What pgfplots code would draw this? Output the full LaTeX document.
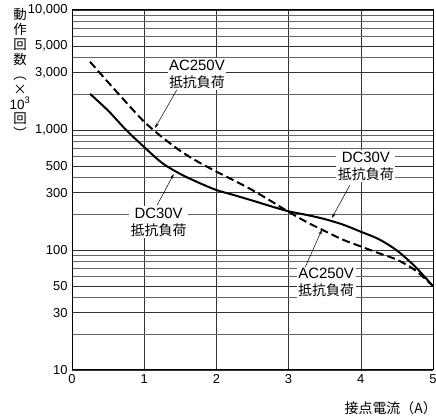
\documentclass[border=0pt]{standalone}
\usepackage{pgfplots}
\pgfplotsset{compat=1.18}
\usetikzlibrary{calc,arrows.meta}
\usepackage{fontspec}
\setmainfont{Liberation Sans}
\newfontfamily\jp{Noto Sans CJK JP}
\begin{document}
\begin{tikzpicture}
\begin{axis}[
    scale only axis,
    width=361bp, height=360bp,
    xmin=0, xmax=5,
    ymode=log, ymin=10, ymax=10000,
    xtick={0,1,2,3,4,5},
    ytick={10,30,50,100,300,500,1000,3000,5000,10000},
    yticklabels={10,30,50,100,300,500,{1,000},{3,000},{5,000},{10,000}},
    minor ytick={20,40,60,70,80,90,200,400,600,700,800,900,2000,4000,6000,7000,8000,9000},
    grid=both,
    major grid style={black!80, line width=0.6pt},
    minor grid style={black!60, line width=0.6pt},
    major tick length=0pt, minor tick length=0pt,
    axis line style={black, line width=1pt},
    tick label style={font=\fontsize{13}{15}\selectfont},
    /pgf/number format/assume math mode=true,
    xticklabel style={yshift=-1bp},
    yticklabel style={xshift=-1bp},
    clip=false,
]
% DC30V resistive load
\addplot[black, line width=2pt, smooth] coordinates {
    (0.25,2000) (0.5,1450) (0.75,1000) (1.0,720) (1.25,530) (1.5,430)
    (1.75,365) (2.0,316) (2.25,286) (2.5,258) (2.75,232) (3.0,210)
    (3.25,196) (3.5,181) (3.75,163) (4.0,142) (4.25,123) (4.5,99)
    (4.75,73) (5.0,50)
};
% AC250V resistive load
\addplot[black, line width=2pt, smooth, dash pattern=on 8bp off 4bp] coordinates {
    (0.25,3700) (0.5,2500) (0.75,1700) (1.0,1170) (1.25,870) (1.5,670)
    (1.75,541) (2.0,450) (2.25,378) (2.5,315) (2.75,257) (3.0,208)
    (3.25,171) (3.5,144) (3.75,122) (4.0,107) (4.25,94) (4.5,83)
    (4.75,68) (5.0,50)
};
\tikzset{lbl/.style={fill=white, align=center, inner sep=1.5bp,
    font=\fontsize{15}{17}\selectfont},
    arr/.style={line width=0.5pt, -{Stealth[length=5bp,width=3bp]}}}
\node[lbl] at (axis cs:1.73,2930) {AC250V\\{\jp\fontsize{14}{17}\selectfont 抵抗負荷}};
\draw[arr] (axis cs:1.45,2150) -- (axis cs:1.15,1040);
\node[lbl] at (axis cs:1.2,171) {DC30V\\{\jp\fontsize{14}{17}\selectfont 抵抗負荷}};
\draw[arr] (axis cs:1.18,237) -- (axis cs:1.41,430);
\node[lbl] at (axis cs:4.07,501) {DC30V\\{\jp\fontsize{14}{17}\selectfont 抵抗負荷}};
\draw[arr] (axis cs:3.85,348) -- (axis cs:3.6,185);
\node[lbl] at (axis cs:3.52,54) {AC250V\\{\jp\fontsize{14}{17}\selectfont 抵抗負荷}};
\draw[arr] (axis cs:3.23,72) -- (axis cs:3.46,147);
\end{axis}
\node[anchor=north, align=center, inner sep=0,
    font=\jp\fontsize{13.5}{15}\selectfont]
    at ($(current axis.north west)+(-52bp,2bp)$)
    {動\\作\\回\\数\\︵\\×\\{\fontspec{Liberation Sans}10\textsuperscript{3}}\\回\\︶};
\node[anchor=north east, inner sep=0, font=\fontsize{14}{16}\selectfont]
    at ($(current axis.south east)+(4bp,-31bp)$) {\jp 接点電流（A）};
\pgfresetboundingbox
\useasboundingbox ($(current axis.south west)+(-72bp,-50bp)$) rectangle ($(current axis.north east)+(3bp,10bp)$);
\end{tikzpicture}
\end{document}
